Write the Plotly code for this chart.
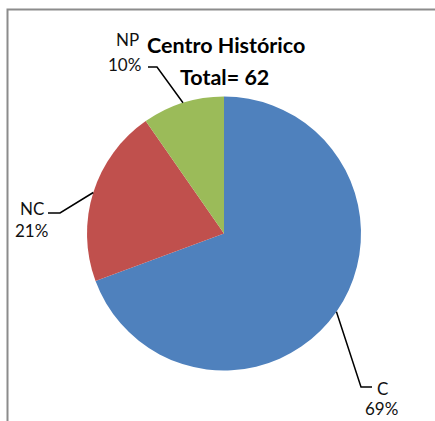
import math
import plotly.graph_objects as go

# ---- data ----
categories = ["C", "NC", "NP"]
counts = [43, 13, 6]
colors = ["#4F81BD", "#C0504D", "#9BBB59"]
title_lines = ["Centro Histórico", "Total= 62"]

W, H = 435, 421
CX, CY, R = 224, 233.5, 137


def px(x, y):
    return x / W, 1 - y / H


total = sum(counts)
pcts = [round(100 * c / total) for c in counts]

fig = go.Figure()
fig.add_trace(go.Pie(
    labels=categories,
    values=counts,
    sort=False,
    direction="clockwise",
    rotation=0,
    marker=dict(colors=colors, line=dict(width=0)),
    textinfo="none",
    hoverinfo="skip",
    showlegend=False,
    domain=dict(x=[(CX - R) / W, (CX + R) / W], y=[1 - (CY + R) / H, 1 - (CY - R) / H]),
))

# leader line anchors computed from slice mid-angles
cum = 0
anchors = []
for c in counts:
    mid = (cum + c / 2) / total * 2 * math.pi
    anchors.append((CX + R * math.sin(mid), CY - R * math.cos(mid)))
    cum += c

# elbow and end points of leader lines (layout choices)
elbows = [(361, 387), (60, 213), (157, 67)]
ends = [(372, 387), (48, 213), (148, 67)]
name_pos = [(382, 387), (32, 207), (127, 39)]
pct_pos = [(381, 407), (31, 229), (125, 64)]

shapes = []
for (ax, ay), (ex, ey), (tx, ty) in zip(anchors, elbows, ends):
    p = [px(ax, ay), px(ex, ey), px(tx, ty)]
    path = "M {} {} L {} {} L {} {}".format(p[0][0], p[0][1], p[1][0], p[1][1], p[2][0], p[2][1])
    shapes.append(dict(type="path", xref="paper", yref="paper", path=path,
                       line=dict(color="black", width=1.5)))

# chart border
x0, y0 = px(7.5, 9.5)
shapes.append(dict(type="rect", xref="paper", yref="paper", x0=x0, y0=y0, x1=1.1, y1=-0.1,
                   line=dict(color="#8c8c8c", width=2), fillcolor="rgba(0,0,0,0)", layer="below"))

annotations = []
lab_font = dict(family="Lato, Carlito, sans-serif", size=17, color="#111111")
for name, pct, (nx, ny), (qx, qy) in zip(categories, pcts, name_pos, pct_pos):
    x, y = px(nx, ny + 1)
    annotations.append(dict(x=x, y=y, xref="paper", yref="paper", text=name, showarrow=False,
                            xanchor="center", yanchor="middle", font=lab_font))
    x, y = px(qx, qy + 1)
    annotations.append(dict(x=x, y=y, xref="paper", yref="paper", text=f"{pct}%", showarrow=False,
                            xanchor="center", yanchor="middle", font=lab_font))

title_font = dict(family="Lato, Carlito, sans-serif", size=21.5, color="#000000")
for line, (tx, ty) in zip(title_lines, [(225.5, 45), (224.5, 77)]):
    x, y = px(tx, ty)
    annotations.append(dict(x=x, y=y, xref="paper", yref="paper", text=f"<b>{line}</b>", showarrow=False,
                            xanchor="center", yanchor="middle", font=title_font))

fig.update_layout(
    width=W, height=H, autosize=False,
    margin=dict(l=0, r=0, t=0, b=0),
    paper_bgcolor="white", plot_bgcolor="white",
    shapes=shapes, annotations=annotations,
)

fig.write_html("out.html", config={"displayModeBar": False},
               post_script="document.body.style.margin='0';document.body.style.overflow='hidden';")
